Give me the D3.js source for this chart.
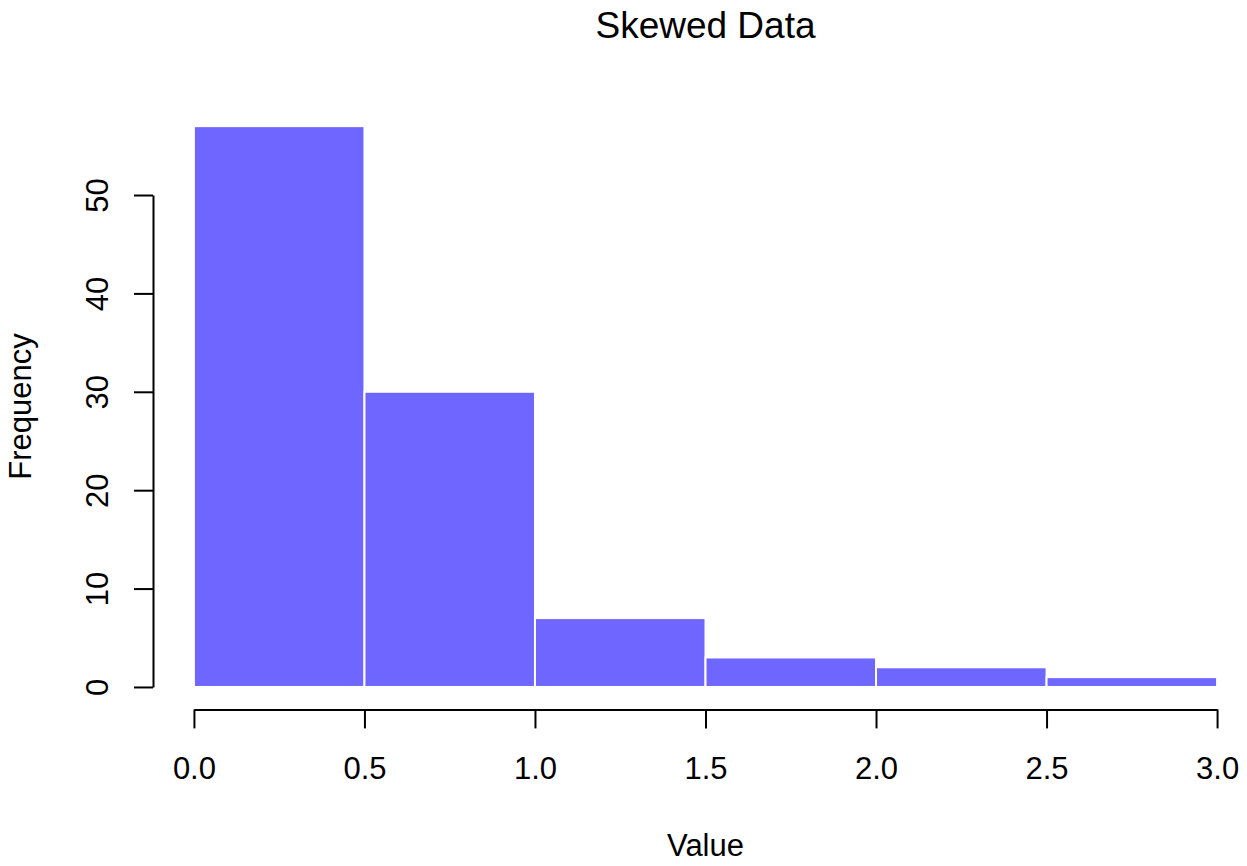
<!DOCTYPE html>
<html>
<head>
<meta charset="utf-8">
<script src="https://cdn.jsdelivr.net/npm/d3@7"></script>
<style>
  html, body { margin: 0; padding: 0; background: #fff; }
  svg { display: block; }
  text { font-family: "Liberation Sans", Arial, Helvetica, sans-serif; fill: #000; }
</style>
</head>
<body>
<svg id="chart" width="1247" height="866"></svg>
<script>
// ---- data ----
const binStarts = [0.0, 0.5, 1.0, 1.5, 2.0, 2.5];
const binEnds   = [0.5, 1.0, 1.5, 2.0, 2.5, 3.0];
const counts    = [57, 30, 7, 3, 2, 1];
const xTicks    = [0.0, 0.5, 1.0, 1.5, 2.0, 2.5, 3.0];
const yTicks    = [0, 10, 20, 30, 40, 50];
const titleText = "Skewed Data";
const xLabel    = "Value";
const yLabel    = "Frequency";

const W = 1247, H = 866;
const plot = { left: 153, right: 1258, top: 103.7, bottom: 709.4 };
const fillColor = "#6f66ff";

const svg = d3.select("#chart");

// R-style 4% extended ranges
const xMin = d3.min(binStarts), xMax = d3.max(binEnds);
const xPad = (xMax - xMin) * 0.04;
const yMax = d3.max(counts);
const yPad = yMax * 0.04;

const x = d3.scaleLinear().domain([xMin - xPad, xMax + xPad]).range([plot.left, plot.right]);
const y = d3.scaleLinear().domain([0 - yPad, yMax + yPad]).range([plot.bottom, plot.top]);

// bars
const bins = counts.map((c, i) => ({ x0: binStarts[i], x1: binEnds[i], n: c }));
svg.append("g").selectAll("rect").data(bins).join("rect")
  .attr("x", d => x(d.x0))
  .attr("y", d => y(d.n))
  .attr("width", d => x(d.x1) - x(d.x0))
  .attr("height", d => y(0) - y(d.n))
  .attr("fill", fillColor)
  .attr("stroke", "#fff")
  .attr("stroke-width", 2);

// x axis (line spans only first..last tick, like R)
const xAxisScale = d3.scaleLinear()
  .domain([xTicks[0], xTicks[xTicks.length - 1]])
  .range([x(xTicks[0]), x(xTicks[xTicks.length - 1])]);
const gx = svg.append("g")
  .attr("transform", `translate(0,${plot.bottom})`)
  .call(d3.axisBottom(xAxisScale).tickValues(xTicks).tickSize(19).tickSizeOuter(0)
        .tickFormat(d3.format(".1f")));
gx.select(".domain").attr("stroke", "#000").attr("stroke-width", 2);
gx.selectAll(".tick line").attr("stroke", "#000").attr("stroke-width", 2);
gx.selectAll(".tick text")
  .attr("y", 779 - plot.bottom).attr("dy", 0)
  .attr("font-size", 31)
  .style("font-family", '"Liberation Sans", Arial, sans-serif')
  .attr("fill", "#000");

// y axis
const yAxisScale = d3.scaleLinear()
  .domain([yTicks[0], yTicks[yTicks.length - 1]])
  .range([y(yTicks[0]), y(yTicks[yTicks.length - 1])]);
const gy = svg.append("g")
  .attr("transform", `translate(${plot.left},0)`)
  .call(d3.axisLeft(yAxisScale).tickValues(yTicks).tickSize(19).tickSizeOuter(0));
gy.select(".domain").attr("stroke", "#000").attr("stroke-width", 2);
gy.selectAll(".tick line").attr("stroke", "#000").attr("stroke-width", 2);
gy.selectAll(".tick text").remove();
gy.selectAll(".tick").append("text")
  .attr("transform", `translate(${108 - plot.left},0) rotate(-90)`)
  .attr("text-anchor", "middle")
  .attr("font-size", 31)
  .text(d => d);

// title & labels
const cx = (plot.left + plot.right) / 2;
const cy = (plot.top + plot.bottom) / 2;
svg.append("text").attr("x", cx).attr("y", 38)
  .attr("text-anchor", "middle").attr("font-size", 37).text(titleText);
svg.append("text").attr("x", cx).attr("y", 856)
  .attr("text-anchor", "middle").attr("font-size", 31).text(xLabel);
svg.append("text")
  .attr("transform", `translate(31,${cy}) rotate(-90)`)
  .attr("text-anchor", "middle").attr("font-size", 31).text(yLabel);
</script>
</body>
</html>
